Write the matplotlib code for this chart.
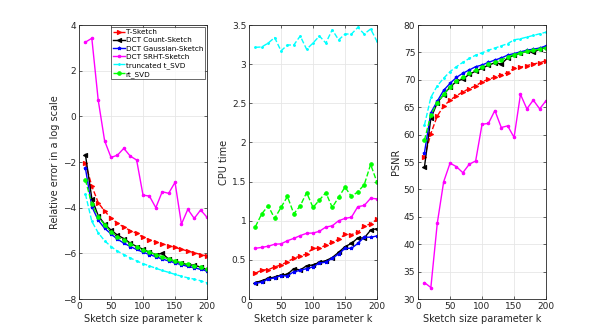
import matplotlib
matplotlib.use("Agg")
import matplotlib.pyplot as plt

k = list(range(10, 201, 10))

names = ["T-Sketch", "DCT Count-Sketch", "DCT Gaussian-Sketch",
         "DCT SRHT-Sketch", "truncated t_SVD", "rt_SVD"]

# relative error (log scale)
err_t = [-2.05, -3.05, -3.78, -4.15, -4.45, -4.68, -4.85, -5.0, -5.12, -5.3,
         -5.4, -5.5, -5.58, -5.66, -5.74, -5.82, -5.9, -5.97, -6.05, -6.12]
err_count = [-1.67, -3.6, -4.35, -4.72, -4.98, -5.2, -5.35, -5.55, -5.7, -5.82,
             -5.95, -6.05, -6.0, -6.25, -6.35, -6.42, -6.5, -6.52, -6.6, -6.72]
err_gauss = [-2.27, -3.95, -4.55, -4.9, -5.15, -5.38, -5.55, -5.7, -5.83, -5.95,
             -6.05, -6.15, -6.25, -6.33, -6.42, -6.5, -6.57, -6.63, -6.7, -6.77]
err_srht = [3.25, 3.42, 0.71, -1.07, -1.8, -1.7, -1.4, -1.74, -1.91, -3.45,
            -3.49, -4.0, -3.3, -3.37, -2.89, -4.72, -4.07, -4.47, -4.1, -4.42]
err_tsvd = [-3.4, -4.6, -5.1, -5.45, -5.7, -5.9, -6.05, -6.2, -6.33, -6.45,
            -6.55, -6.65, -6.75, -6.83, -6.92, -7.0, -7.07, -7.13, -7.2, -7.29]
err_rt = [-2.78, -3.85, -4.4, -4.75, -5.05, -5.28, -5.42, -5.58, -5.72, -5.85,
          -5.95, -6.05, -6.15, -6.25, -6.33, -6.42, -6.48, -6.55, -6.6, -6.68]

# CPU time
cpu_t = [0.33, 0.37, 0.375, 0.41, 0.435, 0.477, 0.52, 0.55, 0.575, 0.65,
         0.648, 0.69, 0.725, 0.763, 0.827, 0.823, 0.853, 0.933, 0.96, 1.02]
cpu_count = [0.21, 0.235, 0.265, 0.28, 0.307, 0.315, 0.39, 0.37, 0.426, 0.435,
             0.47, 0.49, 0.53, 0.597, 0.67, 0.71, 0.78, 0.78, 0.88, 0.9]
cpu_gauss = [0.2, 0.215, 0.255, 0.27, 0.3, 0.295, 0.35, 0.365, 0.39, 0.41,
             0.46, 0.47, 0.52, 0.575, 0.648, 0.648, 0.71, 0.79, 0.79, 0.805]
cpu_srht = [0.648, 0.66, 0.675, 0.7, 0.705, 0.745, 0.775, 0.81, 0.84, 0.843,
            0.865, 0.92, 0.935, 1.0, 1.03, 1.045, 1.18, 1.195, 1.287, 1.28]
cpu_tsvd = [3.215, 3.22, 3.27, 3.34, 3.17, 3.245, 3.245, 3.36, 3.19, 3.27,
            3.36, 3.27, 3.44, 3.31, 3.385, 3.385, 3.47, 3.385, 3.45, 3.29]
cpu_rt = [0.925, 1.09, 1.19, 1.03, 1.17, 1.31, 1.09, 1.19, 1.36, 1.17,
          1.265, 1.36, 1.17, 1.3, 1.43, 1.31, 1.37, 1.46, 1.72, 1.49]

# PSNR
psnr_t = [55.85, 60.2, 63.4, 65.2, 66.3, 67.1, 67.8, 68.4, 68.9, 69.65,
          70.1, 70.5, 70.9, 71.3, 72.1, 72.3, 72.6, 72.9, 73.1, 73.5]
psnr_count = [54.1, 63.0, 65.8, 67.3, 68.7, 69.7, 70.15, 71.0, 71.6, 72.1,
              72.7, 73.1, 72.9, 74.0, 74.5, 74.9, 75.2, 75.0, 75.6, 75.9]
psnr_gauss = [56.7, 64.0, 66.1, 68.1, 69.35, 70.45, 71.2, 71.8, 72.4, 72.7,
              73.2, 73.6, 74.0, 74.5, 74.8, 75.1, 75.4, 75.6, 75.8, 76.2]
psnr_srht = [33.0, 32.1, 43.8, 51.4, 54.8, 54.15, 53.05, 54.6, 55.2, 61.9,
             62.05, 64.4, 61.3, 61.6, 59.5, 67.35, 64.7, 66.3, 64.7, 66.2]
psnr_tsvd = [61.75, 66.8, 68.9, 70.3, 71.5, 72.4, 73.2, 73.9, 74.5, 74.95,
             75.4, 75.8, 76.2, 76.6, 77.3, 77.5, 77.8, 78.1, 78.4, 78.7]
psnr_rt = [59.0, 63.6, 65.8, 67.35, 68.75, 69.8, 70.45, 71.2, 71.8, 72.4,
           72.8, 73.2, 73.6, 74.2, 74.6, 74.9, 75.2, 75.4, 75.6, 75.9]

styles = [
    dict(color="#ff0000", ls="--", marker=">", ms=3),
    dict(color="#000000", ls="-", marker="<", ms=3),
    dict(color="#0000ff", ls="-", marker="*", ms=2.5),
    dict(color="#ff00ff", ls="-", marker=".", ms=3.5),
    dict(color="#00ffff", ls="--", marker=".", ms=2.5),
    dict(color="#00ff00", ls="--", marker="o", ms=2.5),
]

TXT = "#262626"
plt.rcParams["font.family"] = "DejaVu Sans"
plt.rcParams["font.size"] = 6.5

fig = plt.figure(figsize=(6.05, 3.36), dpi=100)
w, h, b = 0.2116, 0.8155, 0.110
lefts = [0.1306, 0.4116, 0.691]

panels = [
    ([err_t, err_count, err_gauss, err_srht, err_tsvd, err_rt],
     (-8, 4), list(range(-8, 5, 2)), "Relative error in a log scale"),
    ([cpu_t, cpu_count, cpu_gauss, cpu_srht, cpu_tsvd, cpu_rt],
     (0, 3.5), [0, 0.5, 1, 1.5, 2, 2.5, 3, 3.5], "CPU time"),
    ([psnr_t, psnr_count, psnr_gauss, psnr_srht, psnr_tsvd, psnr_rt],
     (30, 80), list(range(30, 81, 5)), "PSNR"),
]

for i, (series, ylim, yt, ylab) in enumerate(panels):
    ax = fig.add_axes([lefts[i], b, w, h])
    for name, y, st in zip(names, series, styles):
        ax.plot(k, y, label=name, lw=1.0, mew=0.8, mfc=st["color"], **st)
    ax.set_xlim(0, 200)
    ax.set_ylim(*ylim)
    ax.set_xticks([0, 50, 100, 150, 200])
    ax.set_yticks(yt)
    if i == 1:
        ax.set_yticklabels(["0", "0.5", "1", "1.5", "2", "2.5", "3", "3.5"])
    ax.grid(True, color="#e6e6e6", lw=0.6)
    ax.set_axisbelow(True)
    ax.tick_params(direction="in", length=2.5, width=0.5, colors=TXT,
                   labelsize=6.5, top=True, right=True, pad=2)
    for sp in ax.spines.values():
        sp.set_color(TXT)
        sp.set_linewidth(0.6)
    ax.set_xlabel("Sketch size parameter k", fontsize=7, color=TXT, labelpad=2)
    ax.set_ylabel(ylab, fontsize=7, color=TXT, labelpad=2)
    if i == 0:
        leg = ax.legend(loc="upper right", fontsize=5.2, frameon=True,
                        fancybox=False, edgecolor=TXT, handlelength=1.7,
                        handletextpad=0.1, borderpad=0.25, labelspacing=0.3,
                        borderaxespad=0.3)
        leg.get_frame().set_linewidth(0.6)

fig.savefig("out.png", dpi=100)
